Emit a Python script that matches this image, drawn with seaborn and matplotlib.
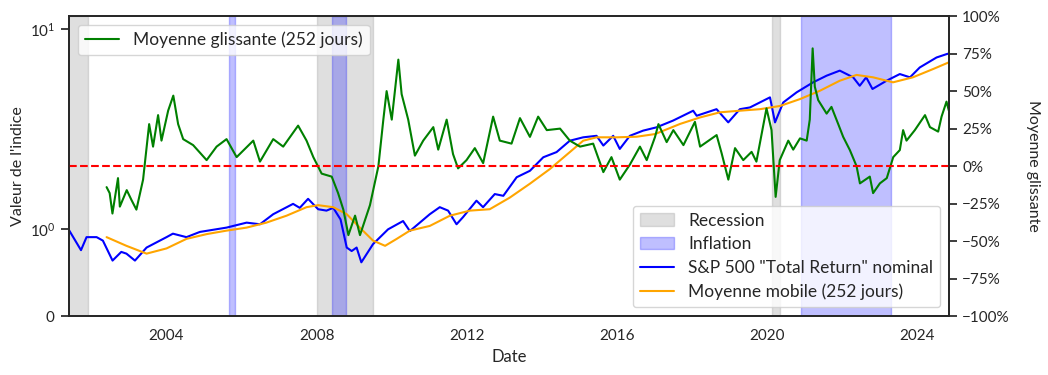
import pandas as pd
import matplotlib
matplotlib.use('Agg')
import matplotlib.pyplot as plt
import matplotlib.dates as mdates
import matplotlib.ticker as mticker
import seaborn as sns

# S&P 500 total return (normalised)
sp_dates = ['2001-05-28', '2001-09-21', '2001-11-14', '2002-02-20', '2002-04-22',
            '2002-07-25', '2002-10-18', '2002-12-07', '2003-02-28', '2003-06-21',
            '2004-01-01', '2004-03-03', '2004-07-13', '2004-11-20', '2005-08-07',
            '2006-02-18', '2006-06-28', '2006-11-04', '2007-05-16', '2007-07-20',
            '2007-10-09', '2008-01-15', '2008-04-05', '2008-06-10', '2008-08-20',
            '2008-10-19', '2008-12-06', '2009-01-23', '2009-03-10', '2009-07-02',
            '2009-11-25', '2010-04-20', '2010-06-25', '2011-01-05', '2011-04-12',
            '2011-07-02', '2011-09-22', '2011-11-24', '2012-04-03', '2012-06-06',
            '2012-09-28', '2012-12-20', '2013-04-29', '2013-09-05', '2014-01-13',
            '2014-05-22', '2014-09-28', '2015-02-05', '2015-06-15', '2015-08-20',
            '2015-11-24', '2016-01-27', '2016-05-04', '2016-09-10', '2017-01-18',
            '2017-06-28', '2018-01-10', '2018-02-13', '2018-08-25', '2018-12-17',
            '2019-04-09', '2019-07-16', '2020-01-27', '2020-03-16', '2020-06-04',
            '2020-10-12', '2021-03-22', '2021-07-31', '2021-12-06', '2022-04-15',
            '2022-06-18', '2022-08-20', '2022-10-20', '2023-03-06', '2023-07-13',
            '2023-10-20', '2024-01-23', '2024-07-04', '2024-10-08', '2024-11-01']
sp_values = [0.99, 0.76, 0.91, 0.91, 0.87,
             0.64, 0.74, 0.72, 0.64, 0.79,
             0.91, 0.95, 0.91, 0.97, 1.02,
             1.08, 1.06, 1.19, 1.34, 1.28,
             1.42, 1.26, 1.24, 1.28, 1.12,
             0.79, 0.75, 0.79, 0.62, 0.83,
             1.00, 1.10, 0.98, 1.19, 1.29,
             1.24, 1.06, 1.15, 1.39, 1.29,
             1.50, 1.47, 1.82, 1.96, 2.29,
             2.43, 2.77, 2.88, 2.93, 2.62,
             2.93, 2.52, 2.93, 3.11, 3.23,
             3.49, 3.91, 3.69, 3.98, 3.42,
             3.98, 4.06, 4.56, 3.42, 4.30,
             4.83, 5.42, 5.85, 6.20, 5.74,
             5.21, 5.74, 5.02, 5.52, 5.96,
             5.74, 6.43, 7.21, 7.49, 7.55]

# 252-day moving average
ma_dates = ['2002-05-28', '2002-12-07', '2003-06-21', '2004-01-01', '2004-07-13',
            '2005-01-26', '2005-08-07', '2006-02-18', '2006-08-29', '2007-03-14',
            '2007-09-24', '2008-01-15', '2008-06-10', '2008-10-19', '2009-02-23',
            '2009-07-02', '2009-10-27', '2010-02-17', '2010-06-25', '2011-01-05',
            '2011-07-20', '2012-01-30', '2012-08-10', '2013-02-21', '2013-09-05',
            '2014-03-18', '2014-09-28', '2015-02-05', '2015-06-15', '2015-12-28',
            '2016-07-10', '2017-01-04', '2017-09-05', '2018-03-18', '2018-09-28',
            '2019-04-09', '2019-10-22', '2020-05-04', '2020-11-14', '2021-05-27',
            '2021-12-06', '2022-05-18', '2022-10-26', '2023-05-08', '2023-11-17',
            '2024-06-03', '2024-11-01']
ma_values = [0.91, 0.81, 0.72, 0.78, 0.89,
             0.945, 0.985, 1.02, 1.08, 1.17,
             1.29, 1.32, 1.29, 1.19, 1.02,
             0.87, 0.81, 0.89, 0.985, 1.04,
             1.17, 1.24, 1.26, 1.44, 1.69,
             2.00, 2.43, 2.77, 2.88, 2.88,
             2.90, 2.99, 3.36, 3.62, 3.84,
             3.91, 3.98, 4.13, 4.47, 4.92,
             5.52, 5.90, 5.74, 5.42, 5.74,
             6.32, 6.82]

# 252-day rolling return (right axis)
roll_dates = ['2002-05-28', '2002-06-27', '2002-07-24', '2002-09-16', '2002-10-04',
              '2002-12-10', '2003-01-26', '2003-03-14', '2003-05-18', '2003-07-16',
              '2003-08-23', '2003-10-11', '2003-11-13', '2004-01-17', '2004-03-07',
              '2004-04-23', '2004-06-11', '2004-09-16', '2005-01-25', '2005-05-02',
              '2005-08-07', '2005-11-13', '2006-04-24', '2006-06-28', '2006-11-04',
              '2007-02-09', '2007-07-04', '2007-09-24', '2007-11-29', '2008-02-18',
              '2008-05-26', '2008-07-27', '2008-09-16', '2008-11-04', '2009-01-08',
              '2009-02-25', '2009-06-02', '2009-08-23', '2009-10-10', '2009-11-11',
              '2009-12-31', '2010-03-05', '2010-04-06', '2010-06-09', '2010-08-13',
              '2010-11-02', '2011-02-08', '2011-03-28', '2011-06-18', '2011-08-19',
              '2011-10-07', '2011-12-28', '2012-03-18', '2012-06-07', '2012-09-12',
              '2012-11-16', '2013-03-10', '2013-05-31', '2013-09-05', '2013-11-24',
              '2014-02-16', '2014-06-25', '2014-09-28', '2015-01-05', '2015-05-13',
              '2015-08-20', '2015-11-07', '2016-01-27', '2016-05-04', '2016-08-10',
              '2016-10-15', '2017-01-04', '2017-02-06', '2017-04-27', '2017-07-01',
              '2017-10-07', '2018-01-27', '2018-03-18', '2018-08-26', '2018-10-14',
              '2018-12-18', '2019-02-21', '2019-05-12', '2019-08-01', '2019-09-17',
              '2019-12-24', '2020-02-11', '2020-03-22', '2020-05-01', '2020-07-23',
              '2020-09-09', '2020-11-14', '2021-01-18', '2021-02-17', '2021-03-17',
              '2021-04-07', '2021-05-10', '2021-07-31', '2021-09-16', '2021-11-21',
              '2022-01-08', '2022-03-14', '2022-05-18', '2022-06-20', '2022-09-24',
              '2022-10-26', '2022-12-31', '2023-03-08', '2023-05-10', '2023-07-13',
              '2023-08-14', '2023-09-16', '2023-12-06', '2024-03-14', '2024-05-01',
              '2024-07-20', '2024-08-22', '2024-10-09', '2024-11-01']
roll_values = [-0.14, -0.18, -0.316, -0.08, -0.27,
               -0.16, -0.227, -0.29, -0.09, 0.28,
               0.13, 0.34, 0.17, 0.37, 0.47,
               0.28, 0.18, 0.14, 0.04, 0.13,
               0.18, 0.06, 0.17, 0.03, 0.18,
               0.13, 0.27, 0.17, 0.06, -0.05,
               -0.07, -0.18, -0.29, -0.46, -0.33,
               -0.46, -0.26, 0.0, 0.31, 0.50,
               0.31, 0.71, 0.48, 0.31, 0.07,
               0.17, 0.26, 0.11, 0.31, 0.08,
               -0.015, 0.04, 0.12, 0.02, 0.33,
               0.17, 0.15, 0.32, 0.195, 0.33,
               0.24, 0.25, 0.17, 0.13, 0.15,
               -0.04, 0.06, -0.09, 0.01, 0.13,
               0.04, 0.195, 0.28, 0.16, 0.24,
               0.14, 0.295, 0.13, 0.207, 0.085,
               -0.09, 0.12, 0.04, 0.095, 0.03,
               0.385, 0.24, -0.205, 0.04, 0.17,
               0.11, 0.185, 0.17, 0.31, 0.785,
               0.53, 0.44, 0.35, 0.395, 0.28,
               0.195, 0.107, 0.0, -0.115, -0.07,
               -0.18, -0.115, -0.08, 0.06, 0.107,
               0.24, 0.17, 0.24, 0.34, 0.26,
               0.23, 0.33, 0.43, 0.37]

recession_start = ['2001-03-01', '2008-01-01', '2020-02-20']
recession_end = ['2001-12-01', '2009-07-01', '2020-05-01']
inflation_start = ['2005-09-01', '2008-06-01', '2020-11-20']
inflation_end = ['2005-11-01', '2008-10-08', '2023-04-22']

sns.set_theme(context='notebook', style='white')
plt.rcParams['font.family'] = ['Lato', 'DejaVu Sans']

sp = pd.DataFrame({'date': pd.to_datetime(sp_dates), 'value': sp_values})
ma = pd.DataFrame({'date': pd.to_datetime(ma_dates), 'value': ma_values})
roll = pd.DataFrame({'date': pd.to_datetime(roll_dates), 'value': roll_values})

fig, ax1 = plt.subplots(figsize=(10.48, 3.75), dpi=100)
fig.subplots_adjust(left=0.0658, right=0.9055, top=0.957, bottom=0.157)

# shaded periods
for i, (s, e) in enumerate(zip(recession_start, recession_end)):
    ax1.axvspan(pd.Timestamp(s), pd.Timestamp(e), color='gray', alpha=0.25,
                label='Recession' if i == 0 else None)
for i, (s, e) in enumerate(zip(inflation_start, inflation_end)):
    ax1.axvspan(pd.Timestamp(s), pd.Timestamp(e), color='blue', alpha=0.25,
                label='Inflation' if i == 0 else None)

sns.lineplot(data=sp, x='date', y='value', ax=ax1, color='blue', linewidth=1.5,
             label='S&P 500 "Total Return" nominal')
sns.lineplot(data=ma, x='date', y='value', ax=ax1, color='orange', linewidth=1.5,
             label='Moyenne mobile (252 jours)')

ax1.set_yscale('symlog', linthresh=1, linscale=0.39)
ax1.set_ylim(0, 11.6)
ax1.yaxis.set_minor_locator(mticker.NullLocator())
ax1.set_xlim(pd.Timestamp('2001-05-27'), pd.Timestamp('2024-11-02'))
ax1.xaxis.set_major_locator(mdates.YearLocator(4))
ax1.xaxis.set_major_formatter(mdates.DateFormatter('%Y'))
ax1.set_xlabel('Date', fontsize=12)
ax1.set_ylabel("Valeur de l'indice", fontsize=11.5)

ax2 = ax1.twinx()
sns.lineplot(data=roll, x='date', y='value', ax=ax2, color='green', linewidth=1.5,
             label='Moyenne glissante (252 jours)')
ax2.axhline(0, color='red', linestyle='--', linewidth=1.5)
ax2.set_ylim(-1, 1)
ax2.yaxis.set_major_locator(mticker.MultipleLocator(0.25))
ax2.yaxis.set_major_formatter(mticker.PercentFormatter(1.0, decimals=0))
ax2.set_ylabel('Moyenne glissante', fontsize=11.5, rotation=270, va='bottom', labelpad=12)
ax2.set_xlabel('')

ax1.legend(loc='lower right', fontsize=12.5, labelspacing=0.45)
ax2.legend(loc='upper left', fontsize=12.5)

plt.savefig('out.png', dpi=100)
plt.close()
